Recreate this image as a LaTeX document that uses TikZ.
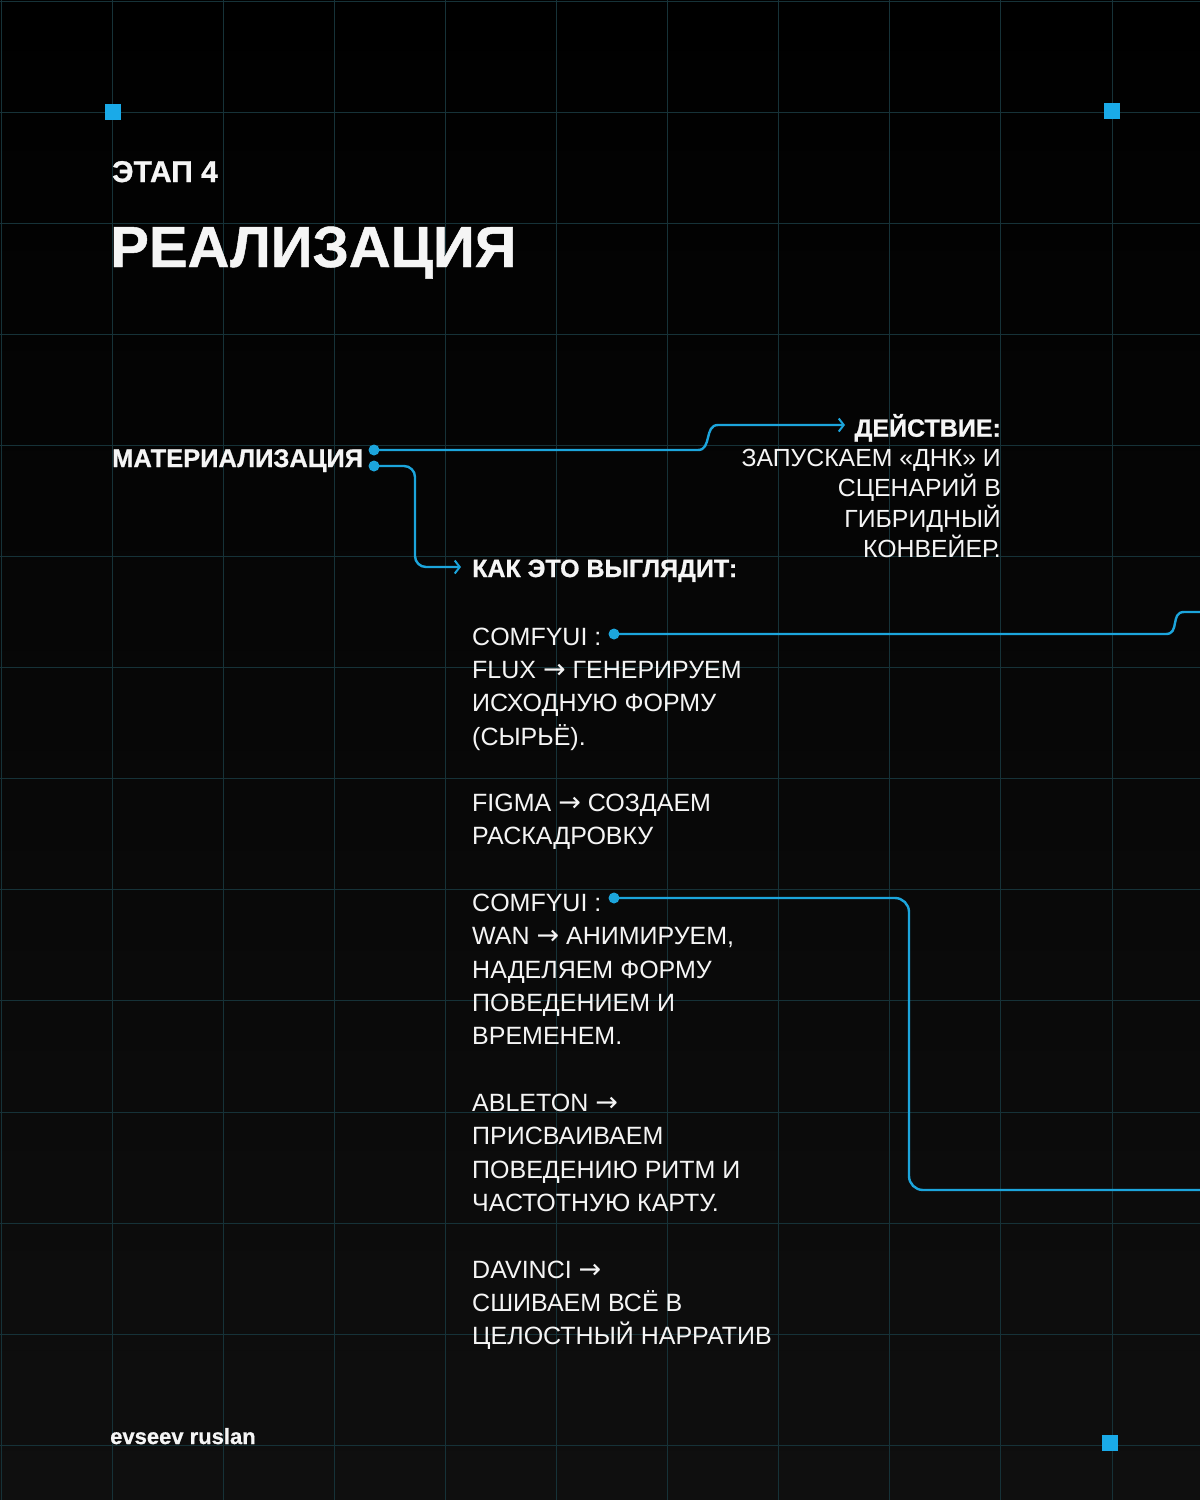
\documentclass[tikz,border=0pt]{standalone}
\usepackage{fontspec}
\setmainfont{Liberation Sans}
\newfontfamily\arrfont{DejaVu Sans}
\newfontfamily\heavyfont{Liberation Sans Bold}[FakeBold=0.8]
\newcommand{\rarr}{{\arrfont\fontsize{27}{30}\selectfont →}}
\usetikzlibrary{arrows.meta}
\definecolor{fg}{RGB}{245,245,245}
\definecolor{cyanline}{RGB}{28,165,220}
\definecolor{cyansq}{RGB}{26,170,232}
\definecolor{gridc}{RGB}{22,50,56}
\definecolor{bgbot}{RGB}{15,15,15}
\tikzset{
  txt/.style={text=fg, inner sep=0pt},
  body/.style={txt, anchor=base west, font=\fontsize{25}{30}\selectfont},
  rbody/.style={txt, anchor=base east, font=\fontsize{24.8}{28}\selectfont},
  dotnode/.style={circle, fill=cyanline, minimum size=11pt, inner sep=0pt},
  corner/.style={rectangle, fill=cyansq, minimum size=16pt, inner sep=0pt},
  conn/.style={draw=cyanline, line width=2.4pt},
  tip/.style={-{Straight Barb[length=5pt,width=13pt,line width=2pt]}},
}
\begin{document}
\begin{tikzpicture}[x=1pt,y=-1pt]
\useasboundingbox (0,0) rectangle (1200,1500);
\shade[top color=black, bottom color=bgbot] (0,0) rectangle (1200,1500);
% grid
\foreach \k in {0,...,10} \draw[gridc, line width=1pt] ({1+111.1*\k},0) -- ({1+111.1*\k},1500);
\foreach \k in {0,...,13} \draw[gridc, line width=1pt] (0,{1+111.1*\k}) -- (1200,{1+111.1*\k});
% corner squares
\node[corner] (sq1) at (113,112) {};
\node[corner] (sq2) at (1112,111) {};
\node[corner] (sq3) at (1110,1443) {};
% titles
\node[txt, anchor=base west, font=\heavyfont\fontsize{30}{36}\selectfont] (stage) at (112,182) {ЭТАП 4};
\node[txt, anchor=base west, font=\heavyfont\fontsize{58}{66}\selectfont] (title) at (110,267) {РЕАЛИЗАЦИЯ};
% main label
\node[txt, anchor=base west, font=\heavyfont\fontsize{25.5}{30}\selectfont] (mat) at (112,467) {МАТЕРИАЛИЗАЦИЯ};
\node[dotnode] (d1) at (374,450) {};
\node[dotnode] (d2) at (374,466) {};
% right block
\node[rbody, font=\heavyfont\fontsize{25}{28}\selectfont] (act) at (1001,436.7) {ДЕЙСТВИЕ:};
\node[rbody] (r1) at (1001,466) {ЗАПУСКАЕМ «ДНК» И};
\node[rbody] (r2) at (1001,496.5) {СЦЕНАРИЙ В};
\node[rbody] (r3) at (1001,527) {ГИБРИДНЫЙ};
\node[rbody] (r4) at (1001,557.3) {КОНВЕЙЕР.};
\coordinate (acttip) at (845,425);
% how it looks
\node[txt, anchor=base west, font=\heavyfont\fontsize{25}{30}\selectfont] (how) at (472,577) {КАК ЭТО ВЫГЛЯДИТ:};
\coordinate (howtip) at (461,567);
% left column
\foreach \i/\t in {0/{COMFYUI :},1/{FLUX \rarr\ ГЕНЕРИРУЕМ},2/{ИСХОДНУЮ ФОРМУ},3/{(СЫРЬЁ).},
  5/{FIGMA \rarr\ СОЗДАЕМ},6/{РАСКАДРОВКУ},
  8/{COMFYUI :},9/{WAN \rarr\ АНИМИРУЕМ,},10/{НАДЕЛЯЕМ ФОРМУ},11/{ПОВЕДЕНИЕМ И},12/{ВРЕМЕНЕМ.},
  14/{ABLETON \rarr},15/{ПРИСВАИВАЕМ},16/{ПОВЕДЕНИЮ РИТМ И},17/{ЧАСТОТНУЮ КАРТУ.},
  19/{DAVINCI \rarr},20/{СШИВАЕМ ВСЁ В},21/{ЦЕЛОСТНЫЙ НАРРАТИВ}}
  \node[body] (l\i) at (472,{645+33.33*\i}) {\t};
\node[dotnode] (d3) at (614,634) {};
\node[dotnode] (d4) at (614,898) {};
\coordinate (e3) at (1200,612);
\coordinate (e4) at (1200,1190);
% footer
\node[txt, anchor=base west, font=\heavyfont\fontsize{22}{26}\selectfont] (author) at (110,1444) {evseev ruslan};
% connectors
\draw[conn, tip] (d1.center) -- (698,450) .. controls (712,450) and (704,425) .. (718,425) -- (acttip);
\draw[conn, tip, rounded corners=11pt] (d2.center) -- (415,466) -- (415,567) -- (howtip);
\draw[conn] (d3.center) -- (1166,634) .. controls (1180,634) and (1170,612) .. (1184,612) -- (e3);
\draw[conn, rounded corners=14pt] (d4.center) -- (909,898) -- (909,1190) -- (e4);
\end{tikzpicture}
\end{document}
